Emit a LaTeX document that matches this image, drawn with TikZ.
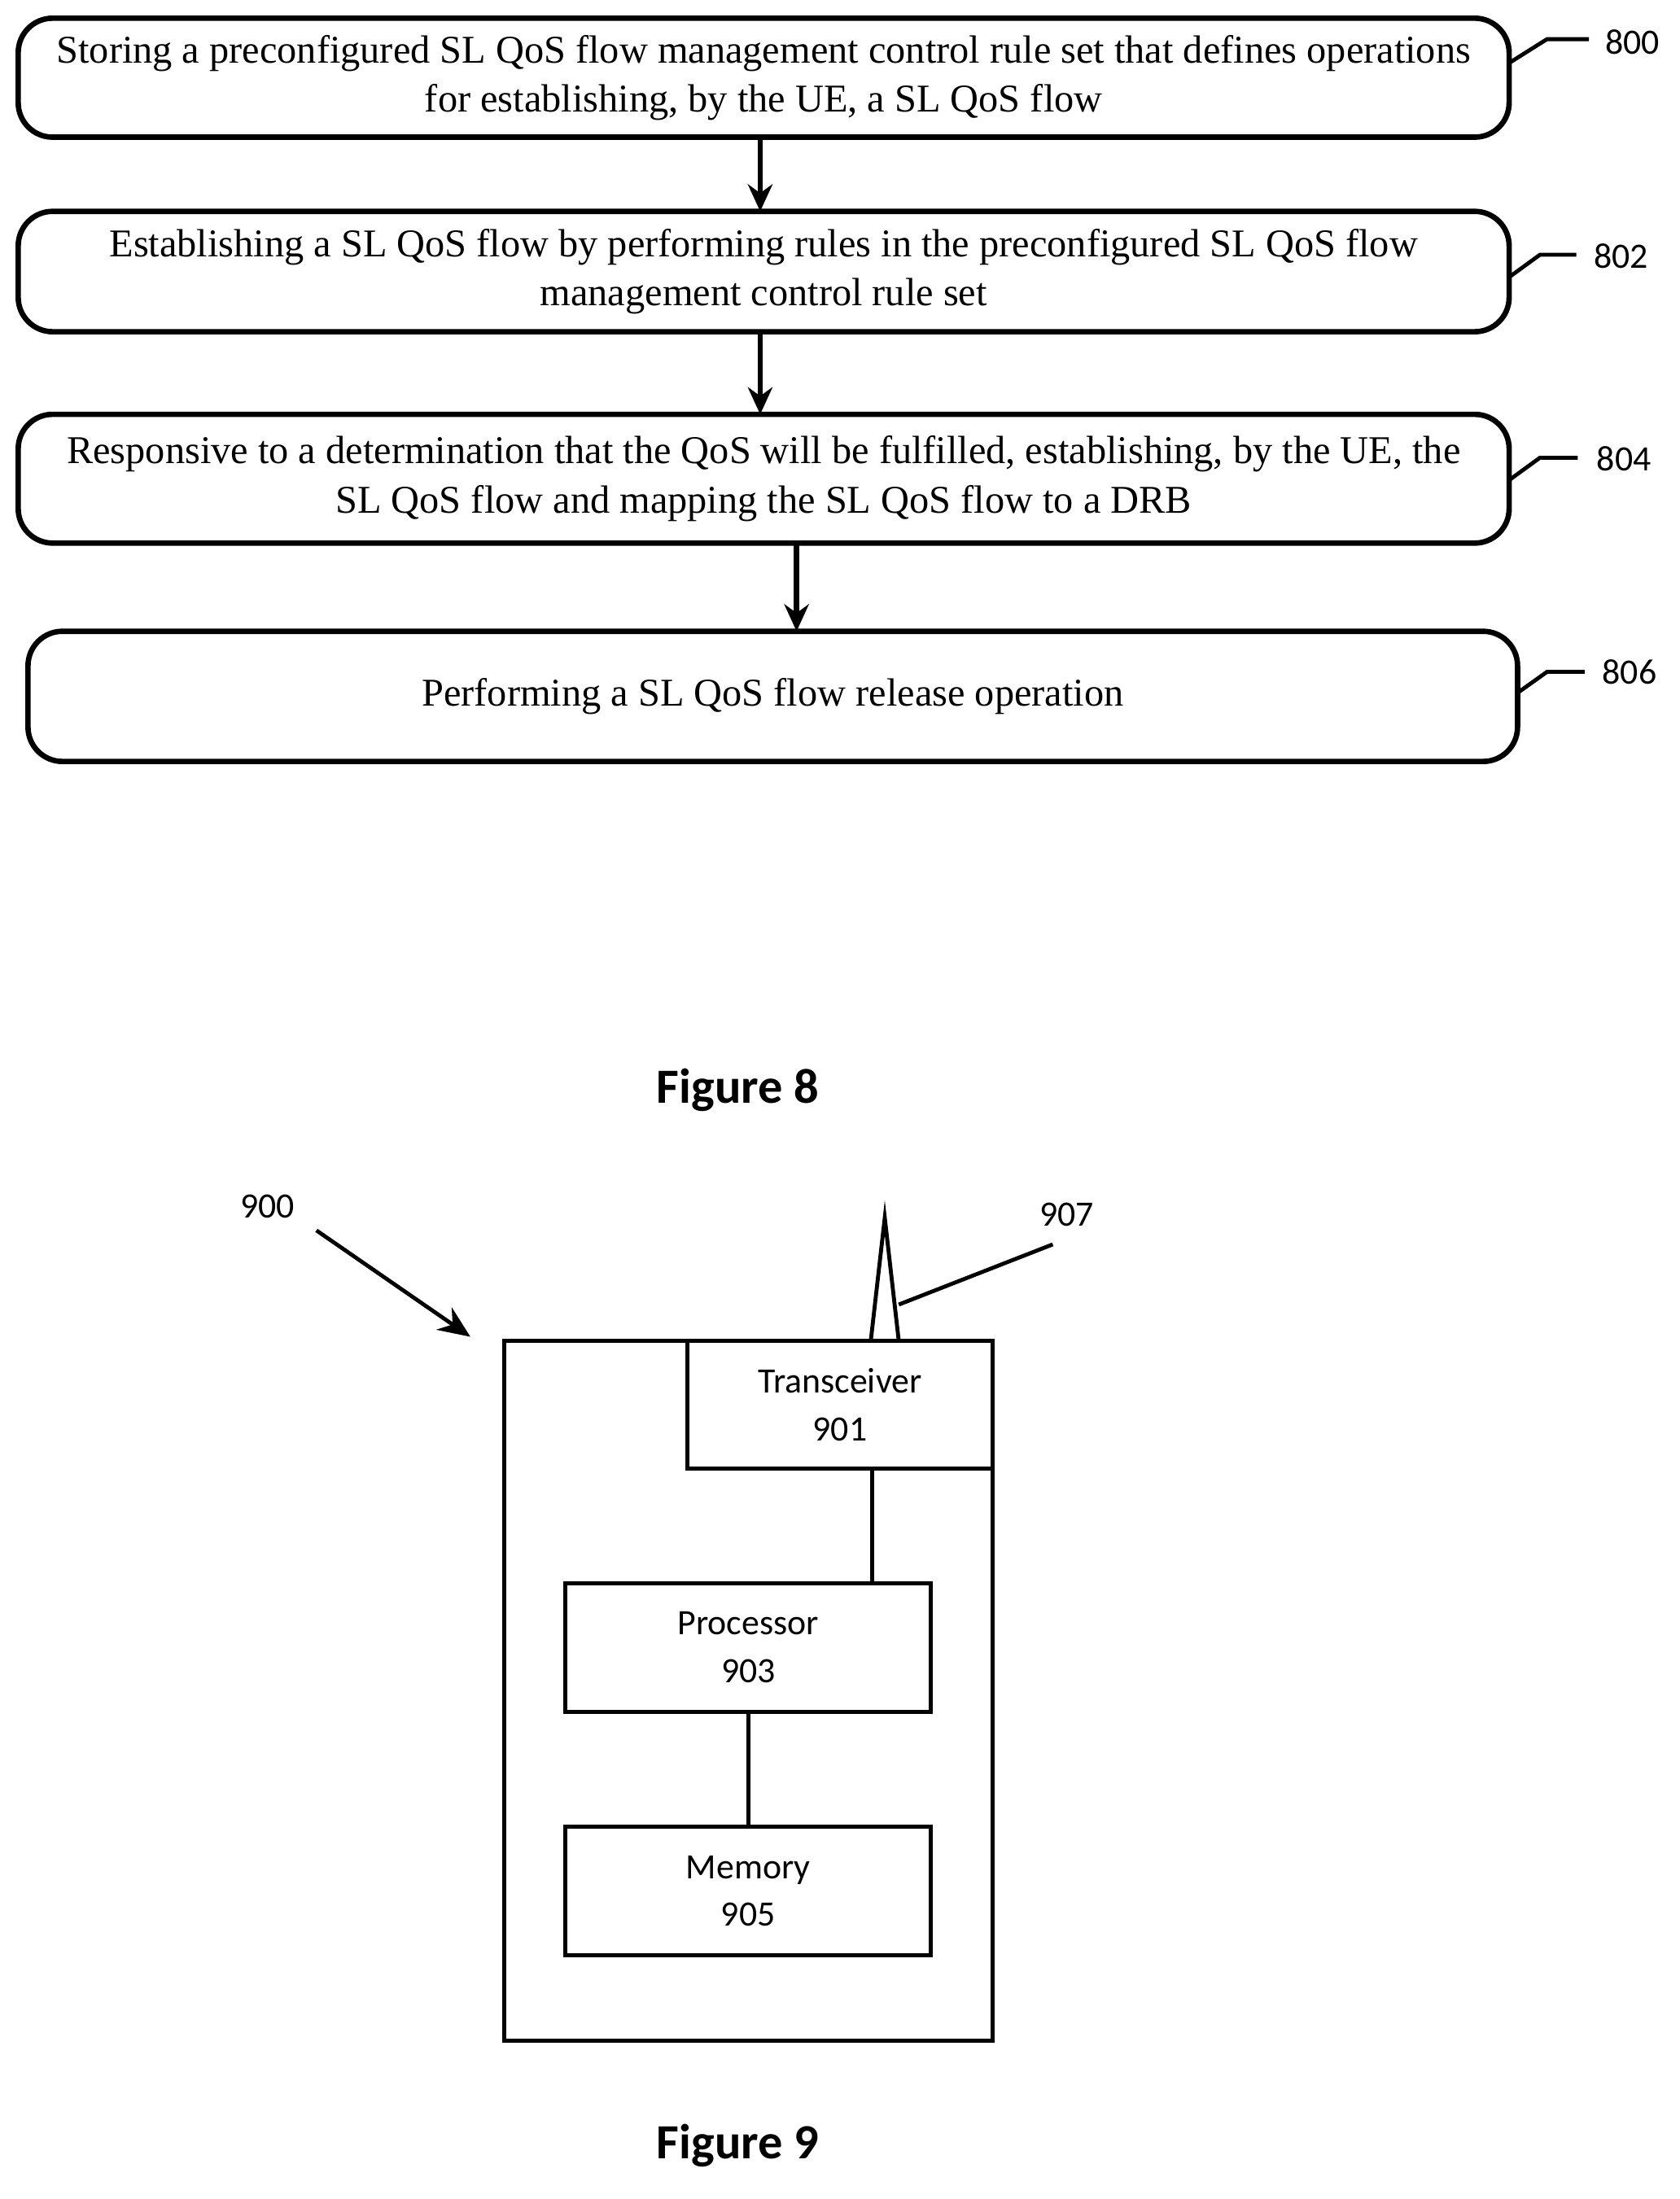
\documentclass[tikz,border=0pt]{standalone}
\usepackage{fontspec}
\setmainfont{Liberation Serif}
\newfontfamily\calfont{Carlito}
\usetikzlibrary{arrows.meta}
\begin{document}
\begin{tikzpicture}[x=0.02cm,y=-0.02cm,
 stepbox/.style={draw,line width=2.2pt,rounded corners=14pt,align=center,inner sep=0pt,
   font=\fontsize{16}{20}\selectfont},
 arr/.style={line width=2.2pt,-{Stealth[length=11pt,width=10pt]}},
 lead/.style={line width=1.6pt},
 lbl/.style={font=\calfont\fontsize{14.5}{18}\selectfont},
 blk/.style={draw,line width=1.6pt,align=center,inner sep=0pt,font=\calfont\fontsize{14.5}{19.4}\selectfont},
 fig/.style={font=\calfont\bfseries\fontsize{20}{24}\selectfont}]
\useasboundingbox (0,0) rectangle (1200,1571);
\node[stepbox,minimum width=1065*0.02cm,minimum height=85*0.02cm] (s800) at (545.5,55.5) {Storing a preconfigured SL QoS flow management control rule set that defines operations\\for establishing, by the UE, a SL QoS flow};
\node[stepbox,minimum width=1065*0.02cm,minimum height=86*0.02cm] (s802) at (545.5,194) {Establishing a SL QoS flow by performing rules in the preconfigured SL QoS flow\\management control rule set};
\node[stepbox,minimum width=1065*0.02cm,minimum height=92*0.02cm] (s804) at (545.5,342) {Responsive to a determination that the QoS will be fulfilled, establishing, by the UE, the\\SL QoS flow and mapping the SL QoS flow to a DRB};
\node[stepbox,minimum width=1064*0.02cm,minimum height=93*0.02cm] (s806) at (552,497.5) {Performing a SL QoS flow release operation};
\coordinate (a1) at (543,98); \coordinate (b1) at (543,151);
\coordinate (a2) at (543,237); \coordinate (b2) at (543,296);
\coordinate (a3) at (569,388); \coordinate (b3) at (569,451);
\draw[arr] (a1) -- (b1); \draw[arr] (a2) -- (b2); \draw[arr] (a3) -- (b3);
\node[lbl] (l800) at (1166,30) {800};
\node[lbl] (l802) at (1158,183) {802};
\node[lbl] (l804) at (1160,328) {804};
\node[lbl] (l806) at (1164,480) {806};
\draw[lead] (1078,45) -- (1105,28) -- (1135,28);
\draw[lead] (1078,198) -- (1100,182) -- (1126,182);
\draw[lead] (1078,343) -- (1100,327) -- (1127,327);
\draw[lead] (1084,495) -- (1105,480) -- (1132,480);
\node[fig] (f8) at (527,779) {Figure 8};
% Figure 9
\node[draw,line width=1.6pt,minimum width=349*0.02cm,minimum height=500*0.02cm,inner sep=0pt] (dev) at (534.5,1208) {};
\node[blk,minimum width=218*0.02cm,minimum height=91*0.02cm] (tr) at (600,1003.5) {Transceiver\\901};
\node[blk,minimum width=261*0.02cm,minimum height=92*0.02cm] (pr) at (534.5,1177) {Processor\\903};
\node[blk,minimum width=261*0.02cm,minimum height=92*0.02cm] (me) at (534.5,1351) {Memory\\905};
\draw[line width=1.6pt] (623,1049) -- (623,1131);
\draw[line width=1.6pt] (pr.south) -- (me.north);
\draw[line width=1.6pt] (622,958) -- (632,870) -- (642,958);
\node[lbl] (l907) at (762,868) {907};
\node[lbl] (l900) at (191,862) {900};
\draw[lead] (642,932) -- (752,889);
\draw[lead,-{Stealth[length=13pt,width=11pt]}] (226,879) -- (336,955);
\node[fig] (f9) at (527,1533) {Figure 9};
\end{tikzpicture}
\end{document}
